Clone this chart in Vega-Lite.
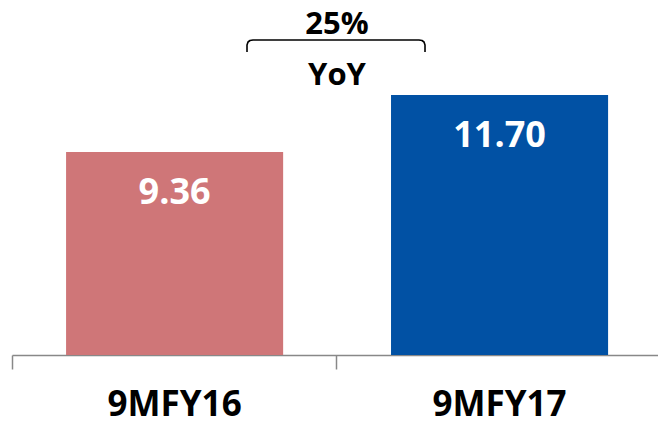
{
  "$schema": "https://vega.github.io/schema/vega-lite/v6.json",
  "width": 646,
  "height": 355,
  "autosize": {"type": "none"},
  "padding": {"left": 12, "top": 0, "right": 0, "bottom": 72},
  "background": "white",
  "config": {"view": {"stroke": null}},
  "resolve": {"scale": {"x": "independent"}},
  "layer": [
    {
      "data": {"values": [
        {"period": "9MFY16", "value": 9.36},
        {"period": "9MFY17", "value": 11.70}
      ]},
      "encoding": {
        "x": {
          "field": "period", "type": "nominal", "sort": null,
          "scale": {"paddingInner": 0.332, "paddingOuter": 0.16, "align": 0.52},
          "axis": {
            "title": null, "labelAngle": 0,
            "domainColor": "#888888", "domainWidth": 1.5,
            "tickColor": "#888888", "tickWidth": 1.5, "tickSize": 14,
            "bandPosition": -0.249,
            "labelFont": "Open Sans", "labelFontWeight": "bold", "labelFontSize": 35,
            "labelColor": "#000000", "labelBaseline": "alphabetic", "labelPadding": 46
          }
        },
        "y": {
          "field": "value", "type": "quantitative",
          "scale": {"domain": [1.027, 15.6], "zero": false, "nice": false},
          "axis": null
        }
      },
      "layer": [
        {
          "mark": {"type": "bar", "clip": true},
          "encoding": {
            "color": {
              "field": "period", "type": "nominal", "legend": null,
              "scale": {"domain": ["9MFY16", "9MFY17"], "range": ["#CF7678", "#0151A4"]}
            }
          }
        },
        {
          "mark": {"type": "text", "baseline": "alphabetic", "align": "center", "dy": 52,
                   "font": "Open Sans", "fontWeight": "bold", "fontSize": 36, "color": "#ffffff"},
          "encoding": {"text": {"field": "value", "type": "quantitative", "format": ".2f"}}
        }
      ]
    },
    {
      "layer": [
        {
          "data": {"values": [
            {"pos": 0.2231, "v": 13.466},
            {"pos": 0.2231, "v": 13.753},
            {"pos": 0.2262, "v": 13.876},
            {"pos": 0.2323, "v": 13.937},
            {"pos": 0.2415, "v": 13.958},
            {"pos": 0.7523, "v": 13.958},
            {"pos": 0.7615, "v": 13.937},
            {"pos": 0.7677, "v": 13.876},
            {"pos": 0.7708, "v": 13.753},
            {"pos": 0.7708, "v": 13.466}
          ]},
          "mark": {"type": "line", "color": "#000000", "strokeWidth": 1.6, "strokeJoin": "round"},
          "encoding": {
            "x": {"field": "pos", "type": "quantitative", "sort": null, "scale": {"domain": [-0.5, 1.4877], "nice": false, "zero": false}, "axis": null},
            "y": {"field": "v", "type": "quantitative", "scale": {"domain": [1.027, 15.6], "zero": false, "nice": false}, "axis": null},
            "order": {"field": "pos", "type": "quantitative"}
          }
        },
        {
          "data": {"values": [
            {"label": "25%", "pos": 0.5, "v": 14.204},
            {"label": "YoY", "pos": 0.5, "v": 12.111}
          ]},
          "mark": {"type": "text", "baseline": "alphabetic", "align": "center",
                   "font": "Open Sans", "fontWeight": "bold", "fontSize": 31, "color": "#000000"},
          "encoding": {
            "x": {"field": "pos", "type": "quantitative", "scale": {"domain": [-0.5, 1.4877], "nice": false, "zero": false}, "axis": null},
            "y": {"field": "v", "type": "quantitative", "scale": {"domain": [1.027, 15.6], "zero": false, "nice": false}, "axis": null},
            "text": {"field": "label"}
          }
        }
      ]
    }
  ]
}
